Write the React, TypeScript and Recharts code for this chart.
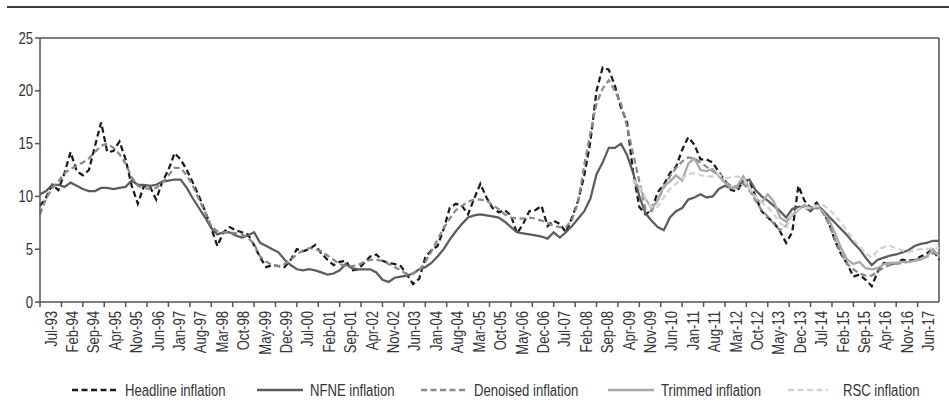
import {
  Legend,
  Line,
  LineChart,
  ReferenceLine,
  XAxis,
  YAxis,
} from "recharts";

// month index counted from Jul-93, one reading every two months
const months = Array.from({ length: 148 }, (_, i) => i * 2);

const tickLabels = [
  "Jul-93", "Feb-94", "Sep-94", "Apr-95", "Nov-95", "Jun-96", "Jan-97", "Aug-97",
  "Mar-98", "Oct-98", "May-99", "Dec-99", "Jul-00", "Feb-01", "Sep-01", "Apr-02",
  "Nov-02", "Jun-03", "Jan-04", "Aug-04", "Mar-05", "Oct-05", "May-06", "Dec-06",
  "Jul-07", "Feb-08", "Sep-08", "Apr-09", "Nov-09", "Jun-10", "Jan-11", "Aug-11",
  "Mar-12", "Oct-12", "May-13", "Dec-13", "Jul-14", "Feb-15", "Sep-15", "Apr-16",
  "Nov-16", "Jun-17",
];

const headline = [
  9.1, 9.9, 11.1, 10.6, 12.2, 14.2, 12.4, 12.0, 12.5, 14.8,
  17.0, 14.2, 14.3, 15.2, 13.5, 11.0, 9.3, 11.0, 10.9, 9.7,
  11.4, 12.5, 14.1, 13.5, 12.5, 11.3, 10.0, 8.6, 7.0, 5.3,
  6.6, 7.1, 6.8, 6.6, 6.4, 5.4, 4.2, 3.3, 3.5, 3.4,
  3.3, 4.0, 5.0, 4.8, 5.0, 5.4, 4.6, 4.0, 3.5, 3.8,
  3.9, 3.0, 3.1, 3.7, 4.3, 4.5, 3.9, 3.7, 3.6, 3.4,
  2.6, 1.7, 2.2, 4.2, 4.9, 5.3, 6.9, 8.9, 9.3, 9.1,
  8.3, 9.8, 11.2, 9.9, 8.9, 8.5, 8.7, 8.2, 6.5, 7.4,
  8.6, 8.7, 9.1, 7.2, 7.7, 7.4, 6.6, 8.0, 9.6, 12.0,
  15.2, 20.0, 22.2, 22.0, 20.5, 18.4, 17.0, 12.2, 9.0, 8.3,
  8.7, 10.4, 11.1, 12.2, 12.8, 14.4, 15.6, 14.9, 13.5, 13.5,
  13.2, 12.3, 11.5, 10.6, 10.5, 11.5, 11.5, 10.0, 8.6, 8.0,
  7.5, 6.7, 5.6, 6.6, 11.0, 9.6, 8.9, 9.4, 8.6, 7.5,
  5.8, 4.5, 3.6, 2.4, 2.6, 2.1, 1.5, 2.9, 3.7, 3.6,
  3.7, 4.0, 3.9, 4.0, 4.3, 4.6, 5.0, 4.0,
];

const nfne = [
  10.2, 10.5, 11.1, 11.1, 10.9, 11.3, 11.0, 10.7, 10.5, 10.5,
  10.8, 10.8, 10.7, 10.8, 10.9, 11.5, 11.1, 11.1, 11.0, 11.1,
  11.4, 11.5, 11.6, 11.6, 10.8, 9.8, 8.9, 8.0, 7.0, 6.4,
  6.6, 6.6, 6.3, 6.1, 6.3, 6.6, 5.6, 5.3, 5.0, 4.7,
  4.0, 3.5, 3.1, 3.0, 3.1, 3.0, 2.8, 2.6, 2.7, 3.0,
  3.6, 3.2, 3.1, 3.1, 3.1, 2.8, 2.1, 1.9, 2.3, 2.4,
  2.5, 2.7, 3.1, 3.3, 3.7, 4.3, 5.0, 5.9, 6.7, 7.4,
  8.0, 8.2, 8.3, 8.2, 8.1, 8.0, 7.6, 7.1, 6.6, 6.5,
  6.4, 6.3, 6.2, 6.0, 6.6, 6.1, 6.6, 7.2, 7.9, 8.6,
  9.8, 12.1, 13.2, 14.6, 14.6, 15.0, 13.9, 12.2, 10.0, 8.4,
  7.7, 7.1, 6.8, 8.0, 8.6, 8.9, 9.7, 9.9, 10.2, 9.9,
  10.0, 10.7, 11.0, 10.8, 11.0, 11.4, 11.6, 10.6, 10.0, 9.6,
  9.1, 8.6, 8.0, 8.8, 9.0, 9.0, 8.6, 9.2, 8.7, 8.1,
  7.5, 6.9, 6.3, 5.6, 5.0, 4.2, 3.5, 4.0, 4.2, 4.4,
  4.5, 4.7, 4.9, 5.3, 5.5, 5.6, 5.8, 5.8,
];

const denoised = [
  8.3, 9.8, 10.8, 11.4, 12.2, 12.6, 12.9, 13.2, 13.6, 14.2,
  14.8, 15.0, 14.6, 14.0, 13.1, 11.8, 11.0, 10.8, 10.7, 10.8,
  11.3, 12.0, 12.7, 12.7, 12.0, 11.0, 9.7, 8.5, 7.2, 6.7,
  6.6, 6.6, 6.5, 6.4, 6.1, 5.5, 4.3, 3.8, 3.5, 3.4,
  3.6, 4.0, 4.5, 4.9, 5.1, 5.0, 4.8, 4.4, 4.0, 3.6,
  3.4, 3.4, 3.5, 3.8, 4.0, 4.0, 3.9, 3.6, 3.3, 3.0,
  2.6, 2.7, 3.0, 3.8, 4.8, 5.9, 7.0, 7.9, 8.7, 9.1,
  9.5, 9.7, 9.7, 9.6, 9.2, 8.8, 8.3, 8.0, 7.9, 7.9,
  8.0, 7.9, 7.7, 7.5, 7.2, 7.1, 7.1, 7.8, 9.5, 13.0,
  16.0, 18.8, 20.2, 21.0, 20.0, 18.8, 16.6, 14.0, 11.4, 8.8,
  8.6, 9.7, 10.8, 11.9, 12.7, 13.3, 13.7, 13.6, 13.2, 12.8,
  12.4, 12.0, 11.4, 11.0, 10.8, 11.2, 10.6, 9.6, 8.7, 8.1,
  7.4, 6.8, 7.2, 8.3, 8.8, 9.0, 8.8, 8.9, 8.5, 7.4,
  5.9, 4.6, 3.6, 3.1, 2.7, 2.5, 2.5, 2.9, 3.3, 3.5,
  3.6, 3.7, 3.8, 4.0, 4.1, 4.3, 4.6, 4.6,
];

// trimmed and RSC measures begin later (month 194, Sep-09)
const lateStart = 194;

const trimmed = [
  11.6, 10.8, 9.8, 8.9, 9.6, 11.0, 11.4, 12.0, 11.5, 13.1,
  13.6, 12.5, 12.4, 12.6, 11.9, 11.3, 10.8, 11.0, 11.9, 10.7,
  9.8, 9.4, 10.2, 9.5, 8.0, 7.6, 8.2, 8.7, 9.2, 8.9,
  9.1, 8.6, 7.8, 6.5, 5.1, 4.0, 3.6, 3.8, 3.2, 3.1,
  3.2, 3.6, 3.7, 3.7, 3.8, 3.8, 3.9, 4.0, 4.3, 5.0,
  4.3,
];

const rsc = [
  11.6, 10.9, 9.8, 9.0, 9.0, 9.9, 10.7, 11.2, 11.7, 12.1,
  12.2, 12.0, 11.9, 11.9, 12.1, 11.7, 11.8, 11.9, 11.7, 10.8,
  10.0, 9.4, 9.0, 8.3, 7.5, 7.0, 8.4, 8.8, 8.9, 8.9,
  9.1, 9.2, 8.8, 8.2, 7.5, 6.7, 5.9, 5.3, 4.6, 4.2,
  4.9, 5.2, 5.3, 5.1, 4.9, 4.7, 4.9, 5.0, 5.0, 5.1,
  5.1,
];

const data = months.map((m, i) => {
  const j = (m - lateStart) / 2;
  return {
    m,
    headline: headline[i],
    nfne: nfne[i],
    denoised: denoised[i],
    trimmed: j >= 0 ? trimmed[j] : null,
    rsc: j >= 0 ? rsc[j] : null,
  };
});

// no narrow font installed: squeeze Liberation Sans like Arial Narrow
const FONT = '"Liberation Sans", Arial, sans-serif';
const NARROW = 0.82;
const AXIS = "#555555";
const TEXT = "#333333";

const series = [
  { key: "headline", name: "Headline inflation", color: "#1a1a1a", dash: "6 3.5", lx: 72 },
  { key: "nfne", name: "NFNE inflation", color: "#5c5c5c", dash: undefined, lx: 257 },
  { key: "denoised", name: "Denoised inflation", color: "#8a8a8a", dash: "6 3.5", lx: 421 },
  { key: "trimmed", name: "Trimmed inflation", color: "#a8a8a8", dash: undefined, lx: 608 },
  { key: "rsc", name: "RSC inflation", color: "#d2d2d2", dash: "6 3.5", lx: 788 },
];

function MonthTick({ x, y, payload }: any) {
  // labels sit in the middle of each 7-month group, like the Excel original
  return (
    <text
      transform={`translate(${x + 11}, ${y + 2}) rotate(-90) scale(${NARROW}, 1)`}
      textAnchor="end"
      dy="0.35em"
      fontSize={16}
      fontFamily={FONT}
      fill={TEXT}
    >
      {tickLabels[Math.round(payload.value / 7)]}
    </text>
  );
}

function ValueTick({ x, y, payload }: any) {
  return (
    <text
      transform={`translate(${x}, ${y}) scale(${NARROW}, 1)`}
      textAnchor="end"
      dy="0.35em"
      fontSize={16}
      fontFamily={FONT}
      fill={TEXT}
    >
      {payload.value}
    </text>
  );
}

function LegendRow() {
  return (
    <svg width={949} height={30} style={{ display: "block" }}>
      {series.map((s) => (
        <g key={s.key}>
          <line
            x1={s.lx}
            y1={15}
            x2={s.lx + (s.key === "rsc" ? 40 : 46)}
            y2={15}
            stroke={s.color}
            strokeWidth={2.5}
            strokeDasharray={s.dash}
          />
          <text
            transform={`translate(${s.lx + (s.key === "rsc" ? 55 : 53)}, 15) scale(${NARROW}, 1)`}
            dy="0.35em"
            fontSize={16}
            fontFamily={FONT}
            fill={TEXT}
          >
            {s.name}
          </text>
        </g>
      ))}
    </svg>
  );
}

export default function App() {
  return (
    <div style={{ position: "absolute", left: 0, top: 0, width: 949, height: 419, background: "#fff" }}>
      <div style={{ position: "absolute", left: 7, right: 0, top: 6, height: 2, background: "#3c3c3c" }} />
      <LineChart
        width={949}
        height={419}
        data={data}
        margin={{ top: 38, right: 10, bottom: 14, left: 0 }}
      >
        <XAxis
          dataKey="m"
          type="number"
          domain={[0, 294]}
          ticks={tickLabels.map((_, i) => i * 7)}
          interval={0}
          tick={<MonthTick />}
          tickSize={5}
          tickMargin={2}
          height={73}
          axisLine={{ stroke: AXIS, strokeWidth: 1.5 }}
          tickLine={{ stroke: AXIS, strokeWidth: 1.5 }}
        />
        <YAxis
          domain={[0, 25]}
          ticks={[0, 5, 10, 15, 20, 25]}
          width={40}
          tickSize={5}
          tickMargin={2}
          tick={<ValueTick />}
          axisLine={{ stroke: AXIS, strokeWidth: 1.5 }}
          tickLine={{ stroke: AXIS, strokeWidth: 1.5 }}
        />
        <ReferenceLine y={25} stroke={AXIS} strokeWidth={1.5} />
        <ReferenceLine x={294} stroke={AXIS} strokeWidth={1.5} />
        <Legend verticalAlign="bottom" content={<LegendRow />} />
        {series.map((s) => (
          <Line
            key={s.key}
            type="linear"
            dataKey={s.key}
            name={s.name}
            stroke={s.color}
            strokeWidth={2.25}
            strokeDasharray={s.dash}
            dot={false}
            connectNulls={false}
            isAnimationActive={false}
          />
        ))}
      </LineChart>
    </div>
  );
}
